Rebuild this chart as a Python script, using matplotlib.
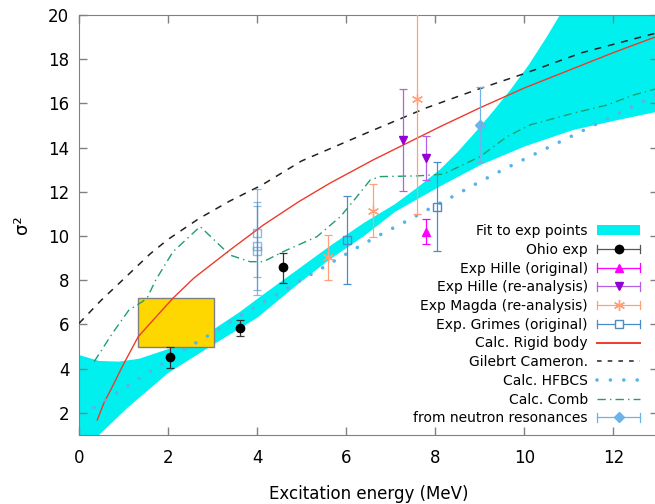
import numpy as np
import matplotlib
matplotlib.use('Agg')
import matplotlib.pyplot as plt
from matplotlib.lines import Line2D
from matplotlib.patches import Patch, Rectangle
from matplotlib.legend_handler import HandlerLine2D

# ---------------------------------------------------------------------
# Data
# ---------------------------------------------------------------------
# fit band (upper and lower edge)
band_up_x = [0.0, 0.45, 0.9, 1.35, 1.8, 2.25, 3.0, 3.6, 4.1, 4.9, 5.6, 6.4, 7.1, 7.6, 8.1, 8.5, 8.9, 9.3, 9.7, 10.1, 10.5, 10.9, 11.3, 13.0]
band_up_y = [4.62, 4.35, 4.32, 4.45, 4.75, 5.05, 5.75, 6.55, 7.3, 8.47, 9.5, 10.6, 11.45, 12.2, 13.0, 13.8, 14.7, 15.65, 16.65, 17.75, 19.0, 20.35, 21.8, 30.0]
band_lo_x = [0.0, 0.45, 1.1, 2.0, 3.0, 4.0, 4.9, 5.6, 6.4, 7.1, 8.1, 9.0, 10.0, 11.1, 12.1, 13.0]
band_lo_y = [0.2, 1.0, 2.25, 3.8, 5.07, 6.3, 7.8, 8.9, 10.0, 11.1, 12.24, 13.2, 14.05, 14.8, 15.25, 15.63]

# yellow box (x range, y range)
box_x = [1.33, 3.02]
box_y = [5.0, 7.21]

rigid_x = [0.41, 0.56, 0.75, 0.97, 1.33, 1.8, 2.12, 2.58, 3.39, 4.14, 4.93, 5.64, 6.61, 7.21, 8.11, 9.0, 10.0, 11.0, 12.0, 13.0]
rigid_y = [1.68, 2.45, 3.19, 4.09, 5.45, 6.5, 7.21, 8.1, 9.37, 10.5, 11.55, 12.4, 13.45, 14.05, 14.95, 15.8, 16.7, 17.5, 18.3, 19.05]

gc_x = [0.0, 0.5, 1.0, 1.6, 2.0, 2.7, 3.4, 4.1, 5.0, 6.5, 7.8, 8.9, 10.0, 11.3, 12.8, 13.0]
gc_y = [6.05, 7.1, 8.05, 9.2, 9.85, 10.8, 11.6, 12.3, 13.4, 14.7, 15.8, 16.6, 17.35, 18.3, 19.1, 19.2]

hfbcs_x = [0.34, 0.85, 1.35, 1.87, 2.38, 2.9, 3.41, 3.93, 4.46, 4.98, 5.5, 6.28, 6.8, 7.33, 7.89, 8.41, 8.94, 9.48, 10.02, 10.56, 11.11, 11.65, 12.2, 12.74, 13.0]
hfbcs_y = [2.24, 2.9, 3.56, 4.21, 4.88, 5.49, 6.14, 6.76, 7.38, 8.0, 8.6, 9.52, 10.1, 10.65, 11.26, 11.81, 12.39, 12.96, 13.5, 14.03, 14.57, 15.1, 15.63, 16.16, 16.4]

comb_x = [0.34, 0.75, 1.12, 1.42, 1.53, 1.72, 2.11, 2.72, 3.39, 3.84, 4.14, 4.58, 5.34, 5.87, 6.24, 6.54, 6.76, 7.59, 8.18, 9.01, 9.61, 10.13, 11.1, 11.86, 12.45, 12.94]
comb_y = [4.32, 5.6, 6.65, 7.03, 7.2, 8.0, 9.29, 10.43, 9.14, 8.84, 8.84, 9.29, 9.97, 10.88, 11.78, 12.54, 12.69, 12.72, 12.8, 13.6, 14.5, 15.03, 15.56, 15.93, 16.38, 16.65]

ohio_x = [2.04, 3.62, 4.58]
ohio_y = [4.53, 5.84, 8.6]
ohio_err_lo = [0.5, 0.36, 0.73]
ohio_err_hi = [0.45, 0.36, 0.65]

hille_orig_x = [7.79]
hille_orig_y = [10.2]
hille_orig_err = [0.58]

hille_re_x = [7.27, 7.78]
hille_re_y = [14.35, 13.52]
hille_re_err = [2.3, 1.0]

magda_x = [5.58, 6.6, 7.6]
magda_y = [9.04, 11.14, 16.2]
magda_err = [1.02, 1.2, 5.2]

grimes_x = [4.0, 4.0, 4.0, 6.01, 8.04]
grimes_y = [10.15, 9.55, 9.34, 9.82, 11.33]
grimes_err = [2.0, 2.0, 2.0, 2.0, 2.0]

neutron_x = [9.01]
neutron_y = [15.03]
neutron_err = [1.7]

legend_labels = ['Fit to exp points', 'Ohio exp', 'Exp Hille (original)', 'Exp Hille (re-analysis)',
                 'Exp Magda (re-analysis)', 'Exp. Grimes (original)', 'Calc. Rigid body',
                 'Gilebrt Cameron.', 'Calc. HFBCS', 'Calc. Comb', 'from neutron resonances']

# ---------------------------------------------------------------------
# Colours
# ---------------------------------------------------------------------
c_band = '#00f0f0'
c_box = '#ffd700'
c_red = '#ee3b2b'
c_gc = '#222222'
c_hf = '#56b4e9'
c_comb = '#1f9e6e'
c_hille = '#ff00ff'
c_hille_re = '#9400d3'
c_magda = '#ffa07a'
c_grimes = '#4a8cc8'
c_neutron = '#6cb4e8'
c_axis = '#808080'


# legend handle: gnuplot-like horizontal bar with end caps
class CappedLineHandler(HandlerLine2D):
    def create_artists(self, legend, orig_handle, xdescent, ydescent,
                       width, height, fontsize, trans):
        artists = super().create_artists(legend, orig_handle, xdescent, ydescent,
                                         width, height, fontsize, trans)
        yc = (height - ydescent) / 2
        half = 0.42 * height
        for xc in (-xdescent, width - xdescent):
            cap = Line2D([xc, xc], [yc - half, yc + half], color=orig_handle.get_color(),
                         linewidth=orig_handle.get_linewidth(), transform=trans)
            artists.append(cap)
        return artists


def main():
    fig = plt.figure(figsize=(6.55, 5.04), dpi=100)
    ax = fig.add_axes([79 / 655, 69 / 504, 579 / 655, 420 / 504])

    # fit band as polygon (upper edge forward, lower edge backward)
    poly_x = np.concatenate([band_up_x, band_lo_x[::-1]])
    poly_y = np.concatenate([band_up_y, band_lo_y[::-1]])
    ax.fill(poly_x, poly_y, color=c_band, lw=0, zorder=1)

    ax.add_patch(Rectangle((box_x[0], box_y[0]), box_x[1] - box_x[0], box_y[1] - box_y[0],
                           facecolor=c_box, edgecolor=c_axis, lw=1.0, zorder=2))

    ax.plot(rigid_x, rigid_y, color=c_red, lw=1.0, zorder=3)
    ax.plot(gc_x, gc_y, color=c_gc, lw=1.1, dashes=(4.5, 4.5), zorder=3)
    ax.plot(hfbcs_x, hfbcs_y, color=c_hf, lw=2.6, linestyle=(0, (0.01, 3.7)),
            dash_capstyle='round', zorder=3)
    ax.plot(comb_x, comb_y, color=c_comb, lw=1.0, dashes=(6, 3, 1, 3), zorder=3)

    eb = dict(linestyle='none', capsize=3.2, elinewidth=0.9, capthick=0.9, zorder=4)
    ax.errorbar(ohio_x, ohio_y, yerr=[ohio_err_lo, ohio_err_hi], marker='o', ms=6,
                color='black', ecolor='#333333', **eb)
    ax.errorbar(hille_orig_x, hille_orig_y, yerr=hille_orig_err, marker='^', ms=6,
                color=c_hille, **eb)
    ax.errorbar(hille_re_x, hille_re_y, yerr=hille_re_err, marker='v', ms=6,
                color=c_hille_re, ecolor='#b060e0', **eb)
    ax.errorbar(magda_x, magda_y, yerr=magda_err, marker=(6, 2, 0), ms=8, mew=0.9,
                color=c_magda, **eb)
    ax.errorbar(grimes_x[:3], grimes_y[:3], yerr=grimes_err[:3], marker='s', ms=6, mfc='none',
                color=c_grimes, alpha=0.6, **eb)
    ax.errorbar(grimes_x[3:], grimes_y[3:], yerr=grimes_err[3:], marker='s', ms=6, mfc='none',
                color=c_grimes, **eb)
    ax.errorbar(neutron_x, neutron_y, yerr=neutron_err, marker='D', ms=5,
                color=c_neutron, **eb)

    ax.set_xlim(0, 13)
    ax.set_ylim(1, 20)
    ax.set_xticks(range(0, 13, 2))
    ax.set_yticks(range(2, 21, 2))
    for sp in ax.spines.values():
        sp.set_color(c_axis)
    ax.tick_params(axis='both', direction='in', length=6, width=1, color=c_axis,
                   labelsize=12, top=True, right=True)
    ax.tick_params(axis='x', pad=10)
    ax.tick_params(axis='y', pad=7)
    ax.set_xlabel('Excitation energy (MeV)', fontsize=12, labelpad=13)
    ax.set_ylabel('σ²', fontsize=13, labelpad=12)

    # legend
    lw_eb = 0.9
    handles = [
        Patch(facecolor=c_band, edgecolor='none'),
        Line2D([], [], color='#555555', lw=lw_eb, marker='o', ms=6, mfc='black', mec='black'),
        Line2D([], [], color=c_hille, lw=lw_eb, marker='^', ms=6),
        Line2D([], [], color='#b060e0', lw=lw_eb, marker='v', ms=6, mfc=c_hille_re, mec=c_hille_re),
        Line2D([], [], color=c_magda, lw=lw_eb, marker=(6, 2, 0), ms=8),
        Line2D([], [], color=c_grimes, lw=lw_eb, marker='s', ms=6, mfc='white'),
        Line2D([], [], color=c_red, lw=1.4),
        Line2D([], [], color=c_gc, lw=1.1, dashes=(3, 4)),
        Line2D([], [], color=c_hf, lw=2.6, linestyle=(0, (0.01, 3.7)), dash_capstyle='round'),
        Line2D([], [], color=c_comb, lw=1.0, dashes=(6, 3, 1, 3)),
        Line2D([], [], color=c_neutron, lw=lw_eb, marker='D', ms=5),
    ]
    capped = CappedLineHandler(numpoints=1)
    handler_map = {h: capped for i, h in enumerate(handles) if i in (1, 2, 3, 4, 5, 10)}
    ax.legend(handles, legend_labels, handler_map=handler_map, loc='upper right',
              bbox_to_anchor=(0.969, 0.502), frameon=False, markerfirst=False,
              fontsize=10, handlelength=3.1, handleheight=0.75, handletextpad=0.65,
              labelspacing=0.34, borderpad=0, borderaxespad=0)

    fig.savefig('out.png', dpi=100)
    plt.close(fig)


if __name__ == '__main__':
    main()
